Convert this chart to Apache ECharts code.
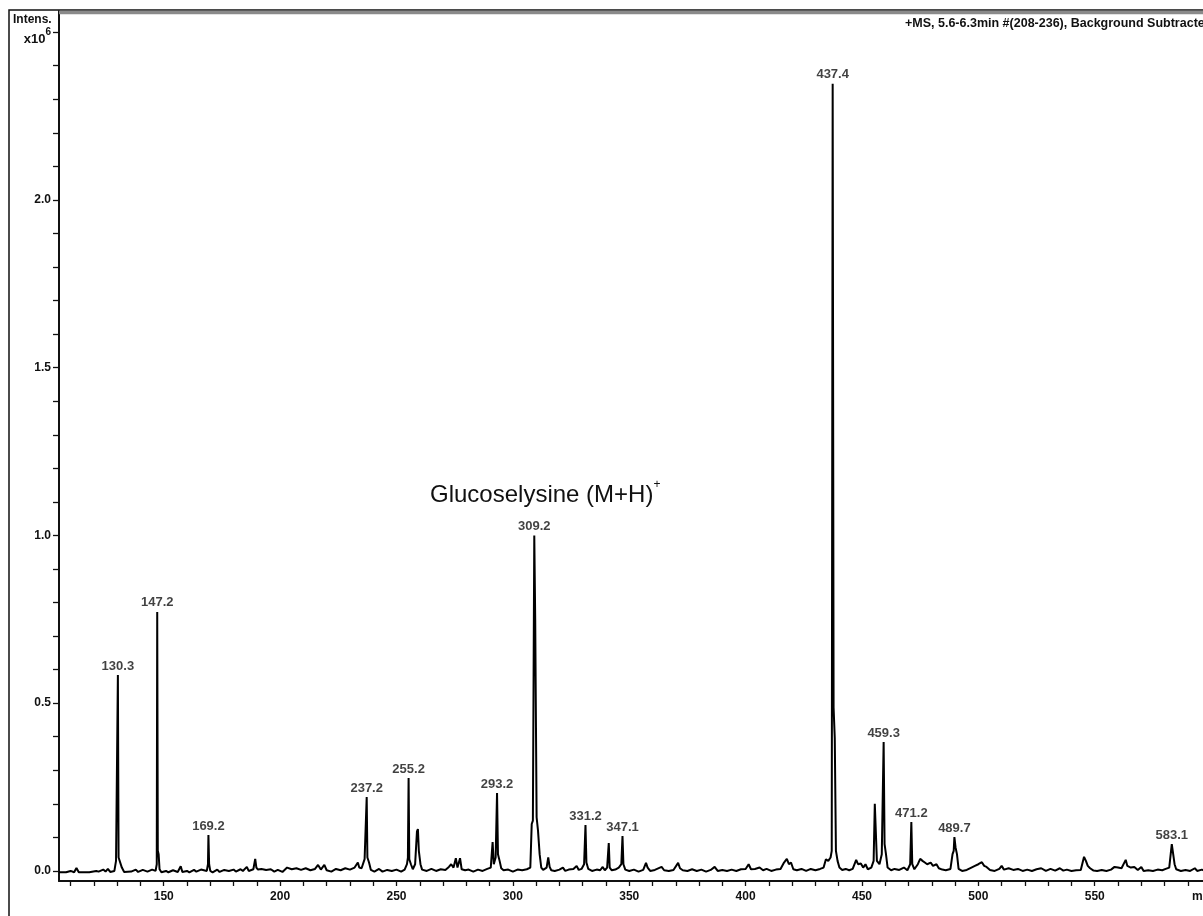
<!DOCTYPE html>
<html>
<head>
<meta charset="utf-8">
<script src="https://cdn.jsdelivr.net/npm/echarts@6/dist/echarts.min.js"></script>
<style>
html,body{margin:0;padding:0;overflow:hidden;background:#fff;}
#chart{width:1250px;height:916px;}
</style>
</head>
<body>
<div id="chart"></div>
<script>
// Profile of the mass spectrum: [m/z, intensity (x10^6)]
const spectrum = [
[105,-0.004],[108,-0.004],[110,0.0],[111.5,-0.004],[112.5,0.009],[113.5,-0.004],[118,-0.004],[121,0.0],[122,-0.002],[124,0.004],[125,-0.002],[126,0.006],[127,-0.003],
[128.8,0.0],[129.5,0.03],[130.0,0.035],[130.3,0.584],[130.6,0.04],[131.2,0.035],[132,0.01],[133,-0.003],[136,-0.002],[138,0.004],[139,-0.003],[141,0.003],[143,-0.002],[145,0.004],
[146.5,0.0],[147.0,0.02],[147.2,0.772],[147.45,0.06],[147.8,0.05],[148.2,0.005],[149,-0.004],[151,0.0],[152,-0.004],[154,0.002],[156,-0.003],[157.3,0.014],[158,-0.003],[160,0.0],[161,-0.004],[163,0.003],[164,-0.002],[166,0.004],
[168.5,0.0],[169.0,0.02],[169.2,0.107],[169.5,0.02],[170,0.0],[171,-0.004],[173,0.004],[174,-0.003],[176,0.003],[178,0.0],[180,0.004],[181,-0.002],[183,0.005],[184,0.0],[185.7,0.012],[186.5,0.0],
[188.5,0.005],[189.3,0.036],[189.8,0.01],[190.5,0.004],[192,0.006],[194,0.003],[196,0.005],[197.5,-0.002],[199,0.003],[201,-0.003],[203,0.01],[205,0.005],[207,0.008],[209,0.003],[211,0.008],[213,0.002],[215,0.006],[216.3,0.018],[217.5,0.004],[219,0.018],[220,0.002],[222,-0.002],[224,0.006],[226,0.002],[228,0.008],[230,0.004],[232,0.01],[233.4,0.025],[234,0.01],[235,0.008],
[236.3,0.035],[236.8,0.04],[237.2,0.22],[237.5,0.04],[238.2,0.025],[239,0.003],[240.5,-0.002],[242.5,0.006],[244,-0.002],[246,0.003],[248,0.0],[250,0.004],[252,-0.002],[253.5,0.004],
[254.5,0.02],[254.9,0.04],[255.2,0.277],[255.5,0.035],[256.2,0.02],[257,0.005],[258,0.02],[258.8,0.118],[259.2,0.125],[259.6,0.06],[260.3,0.02],[261,0.004],[263,0.0],[265,0.006],[267,0.0],[269,0.005],[271,0.003],
[272.5,0.012],[273.5,0.02],[274.5,0.01],[275.5,0.038],[276.2,0.01],[277.3,0.038],[278,0.005],[279.5,0.002],[281,0.004],[283,-0.002],[285,0.004],[287,0.0],[289,0.006],[290.5,0.01],
[291.3,0.086],[291.8,0.02],[292.6,0.04],[293.2,0.232],[293.6,0.05],[294.3,0.03],[295,0.008],[296,0.002],[298,0.004],[300,-0.002],[302,0.004],[304,0.002],[306,0.005],[307.5,0.01],
[308.1,0.14],[308.6,0.15],[309.2,1.0],[309.6,0.75],[310.2,0.16],[310.8,0.12],[311.5,0.05],[312.2,0.01],[313,0.003],[314.5,0.01],[315.2,0.04],[315.8,0.012],[316.5,0.002],[318,0.0],[320,0.004],[321.5,0.01],[322.5,0.0],[324,0.004],[326,0.006],[327.4,0.015],[328.3,0.003],[329.5,0.006],
[330.6,0.02],[331.2,0.137],[331.6,0.025],[332.4,0.006],[334,0.0],[336,0.004],[337.5,0.002],[338.6,0.012],[339.5,0.002],[340.5,0.01],[341.2,0.083],[341.6,0.01],[342.5,0.002],[344,0.004],[345.5,0.01],
[346.6,0.02],[347.1,0.104],[347.5,0.02],[348.3,0.004],[350,0.0],[352,0.004],[354,-0.002],[356,0.003],[357.2,0.024],[357.9,0.01],[359,0.0],[361,0.003],[363.9,0.012],[365,0.002],[367,0.0],[369,0.003],[371,0.024],[371.8,0.008],[373,0.002],[375,0.0],[377,0.005],[379,0.0],[381,0.004],[383,-0.002],[385,0.003],[386.7,0.012],[388,0.0],[390,0.003],[392,0.0],[394,0.004],[396,0.0],[398,0.005],[400,0.006],[401.3,0.02],[402.3,0.005],[404,0.006],[406,0.01],[407.5,0.002],[409,0.006],[411,0.0],[413,0.004],[415,0.006],
[416.5,0.025],[417.7,0.036],[418.6,0.02],[419.5,0.025],[420.5,0.005],[422,0.002],[424,0.006],[426,0.0],[428,0.006],[430,0.002],[432,0.006],[433.5,0.01],[434.5,0.035],[435.5,0.03],[436.5,0.04],
[437.0,0.06],[437.4,2.346],[437.8,0.486],[438.3,0.396],[438.8,0.06],[439.5,0.03],[440.3,0.01],[441.5,0.003],[443,0.006],[444.5,0.002],[446,0.006],[447.5,0.033],[448.3,0.02],[449.5,0.022],[450.5,0.01],[451.5,0.02],[452.5,0.005],[454,0.01],
[455.0,0.03],[455.5,0.2],[456.0,0.2],[456.4,0.03],[457.5,0.02],[458.5,0.05],[459.3,0.384],[459.7,0.08],[460.3,0.05],[461,0.01],[462.5,0.002],[464,0.006],[466,0.003],[468,0.01],[469.5,0.002],
[470.7,0.02],[471.2,0.146],[471.6,0.02],[472.5,0.005],[474,0.02],[475,0.036],[476,0.03],[477,0.025],[478,0.02],[479.5,0.025],[480.5,0.015],[482,0.02],[483,0.008],[484.5,0.004],[486,0.002],[488,0.006],
[488.9,0.05],[489.4,0.06],[489.7,0.101],[490.2,0.07],[490.8,0.05],[491.5,0.006],[493,0.0],[495,0.003],[497,0.01],[498.5,0.015],[500,0.02],[501.5,0.026],[502.5,0.015],[503.5,0.012],[505,0.003],[507,0.0],[509,0.006],[510,0.015],[511,0.004],[513,0.008],[515,0.003],[517,0.006],[519,0.0],[521,0.004],[523,0.0],[525,0.005],[527,0.008],[529,0.0],[531,0.006],[533,0.001],[535,0.008],[536.5,0.001],[538,0.004],[540,0.0],[542,0.002],[544,0.003],
[545.4,0.042],[546.2,0.03],[547,0.015],[548,0.008],[549.5,0.001],[551,0.0],[553,0.003],[555,0.0],[557,0.004],[558.5,0.012],[560,0.01],[561.5,0.008],[563.3,0.033],[564,0.015],[565.5,0.01],[567,0.012],[568.5,0.003],[570,0.012],[571,0.0],[573,0.002],[575,0.0],[577,0.004],[579,0.002],[580.5,0.006],[582,0.01],
[583.1,0.08],[583.7,0.05],[584.3,0.02],[585,0.005],[587,0.0],[589,0.003],[591,0.0],[593,0.008],[594,0.0],[596,0.004],[598,-0.002],[600,0.003],[605,0.0],[610,0.0]
];

// Labelled peaks
const peakMz = [130.3, 147.2, 169.2, 237.2, 255.2, 293.2, 309.2, 331.2, 347.1, 437.4, 459.3, 471.2, 489.7, 583.1];
const peakIntensity = [0.584, 0.772, 0.107, 0.22, 0.277, 0.232, 1.0, 0.137, 0.104, 2.346, 0.384, 0.146, 0.101, 0.08];

// Axis ticks and labels
const xTickValues = [110,120,130,140,150,160,170,180,190,200,210,220,230,240,250,260,270,280,290,300,310,320,330,340,350,360,370,380,390,400,410,420,430,440,450,460,470,480,490,500,510,520,530,540,550,560,570,580,590,600];
const xLabelValues = [150,200,250,300,350,400,450,500,550];
const yTickValues = [0,0.1,0.2,0.3,0.4,0.5,0.6,0.7,0.8,0.9,1.0,1.1,1.2,1.3,1.4,1.5,1.6,1.7,1.8,1.9,2.0,2.1,2.2,2.3,2.4,2.5];
const yLabelValues = [0,0.5,1.0,1.5,2.0,2.5];

const FONT = 'Liberation Sans, Arial, sans-serif';
const TXT = '#111';

const chart = echarts.init(document.getElementById('chart'), null, {renderer: 'canvas'});
chart.setOption({
  animation: false,
  backgroundColor: '#fff',
  grid: {left: 59, top: 11, right: 15.6, bottom: 35, containLabel: false},
  xAxis: {
    type: 'value', min: 105, max: 610,
    axisLine: {show: true, onZero: false, lineStyle: {color: '#111', width: 2}},
    axisTick: {show: true, length: 5, lineStyle: {color: '#111', width: 1.3}, customValues: xTickValues},
    axisLabel: {customValues: xLabelValues, margin: 10, fontSize: 12, fontWeight: 'bold', color: TXT, fontFamily: FONT},
    splitLine: {show: false}
  },
  yAxis: {
    type: 'value', min: -0.03, max: 2.563,
    axisLine: {show: true, onZero: false, lineStyle: {color: '#111', width: 2}},
    axisTick: {show: true, length: 6, lineStyle: {color: '#111', width: 1.3}, customValues: yTickValues},
    axisLabel: {
      customValues: yLabelValues, margin: 8, fontSize: 12, fontWeight: 'bold', color: TXT, fontFamily: FONT,
      formatter: function (v) { return Math.abs(v - 2.5) < 1e-6 ? '{a|x10}{s|6}' : v.toFixed(1); },
      rich: {
        a: {fontSize: 13, fontWeight: 'bold', lineHeight: 28, verticalAlign: 'bottom', color: TXT, fontFamily: FONT},
        s: {fontSize: 10, fontWeight: 'bold', lineHeight: 28, verticalAlign: 'top', padding: [9, 0, 0, 0], color: TXT, fontFamily: FONT}
      }
    },
    splitLine: {show: false}
  },
  series: [
    {
      type: 'line', data: spectrum, symbol: 'none', showSymbol: false, silent: true,
      lineStyle: {color: '#000', width: 2, join: 'bevel'}, z: 2
    },
    {
      type: 'scatter', data: peakMz.map(function (m, i) { return [m, peakIntensity[i]]; }),
      symbolSize: 1, itemStyle: {color: 'transparent'}, silent: true, z: 3,
      label: {show: true, position: 'top', distance: 2, fontSize: 13, fontWeight: 'bold', color: TXT, fontFamily: FONT,
        formatter: function (p) { return p.value[0].toFixed(1); }}
    }
  ],
  graphic: [
    {type: 'rect', silent: true, z: 0, shape: {x: 9, y: 10, width: 1400, height: 1000}, style: {fill: 'none', stroke: '#111', lineWidth: 1.5}},
    {type: 'line', silent: true, z: 1, shape: {x1: 59, y1: 12.5, x2: 1250, y2: 12.5}, style: {stroke: '#8a8a8a', lineWidth: 3.5}},
    {type: 'text', left: 13, top: 14, style: {text: 'Intens.', fontSize: 12, fontWeight: 'bold', fill: TXT, fontFamily: FONT}},
    {type: 'text', left: 905, top: 17, style: {text: '+MS, 5.6-6.3min #(208-236), Background Subtracted', fontSize: 12.5, fontWeight: 'bold', fill: TXT, fontFamily: FONT}},
    {type: 'text', left: 1192, top: 891, style: {text: 'm/z', fontSize: 12, fontWeight: 'bold', fill: TXT, fontFamily: FONT}},
    {type: 'text', left: 430, top: 479, style: {
      text: '{m|Glucoselysine (M+H)}{s|+}',
      rich: {
        m: {fontSize: 24, lineHeight: 28, verticalAlign: 'bottom', fill: TXT, fontFamily: FONT},
        s: {fontSize: 12, lineHeight: 28, verticalAlign: 'top', fill: TXT, fontFamily: FONT}
      }
    }}
  ]
});
</script>
</body>
</html>
